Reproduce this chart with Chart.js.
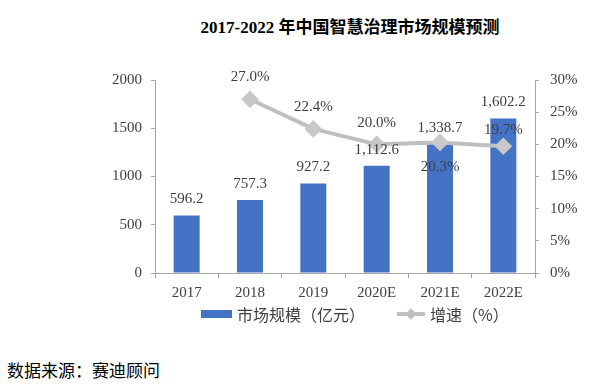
<!DOCTYPE html>
<html>
<head>
<meta charset="utf-8">
<script src="https://cdn.jsdelivr.net/npm/chart.js@4.4.1/dist/chart.umd.min.js"></script>
<style>
  html, body { margin: 0; padding: 0; background: #fff; }
  body { width: 609px; height: 388px; position: relative; overflow: hidden; }
  #title {
    position: absolute; left: 0; top: 18px; width: 700px; text-align: center;
    font: bold 17px/20px 'Liberation Serif', 'Noto Sans CJK SC', serif; color: #000;
  }
  #wrap { position: absolute; left: 0; top: 0; width: 609px; height: 310px; }
  #legend {
    position: absolute; left: 201px; top: 304px; height: 20px; display: flex; align-items: center;
    font: 16px/20px 'Noto Sans CJK SC', sans-serif; color: #404040;
  }
  .swatch-bar { width: 31px; height: 8px; background: #4472C4; margin-right: 5px; }
  .swatch-line { position: relative; width: 28px; height: 4px; background: #BFBFBF; margin: 0 5px 0 32px; }
  .swatch-line::after {
    content: ''; position: absolute; left: 10px; top: -2px; width: 8px; height: 8px;
    background: #BFBFBF; transform: rotate(45deg);
  }
  #source {
    position: absolute; left: 7px; top: 360px;
    font: 17px/20px 'Noto Sans CJK SC', sans-serif; color: #000;
  }
</style>
</head>
<body>
<div id="title">2017-2022 年中国智慧治理市场规模预测</div>
<div id="wrap"><canvas id="chart"></canvas></div>
<div id="legend">
  <span class="swatch-bar"></span><span>市场规模（亿元）</span>
  <span class="swatch-line"></span><span>增速（%）</span>
</div>
<div id="source">数据来源：赛迪顾问</div>
<script>
// ── Data ─────────────────────────────────────────────
const years      = ['2017', '2018', '2019', '2020E', '2021E', '2022E'];
const marketSize = [596.2, 757.3, 927.2, 1112.6, 1338.7, 1602.2];   // 亿元
const growthRate = [null, 27.0, 22.4, 20.0, 20.3, 19.7];            // %
const sizeTicks  = [0, 500, 1000, 1500, 2000];
const rateTicks  = [0, 5, 10, 15, 20, 25, 30];

const SERIF = "'Liberation Serif', 'Times New Roman', serif";
const AXIS  = '#A6A6A6';
const TEXT  = '#404040';

const fmtSize = v => v.toLocaleString('en-US', { minimumFractionDigits: 1, maximumFractionDigits: 1 });
const fmtRate = v => v.toFixed(1) + '%';

// value labels above bars and next to line points
const valueLabels = {
  id: 'valueLabels',
  afterDatasetsDraw(chart, args, opts) {
    const ctx = chart.ctx;
    ctx.save();
    ctx.font = '15px ' + SERIF;
    ctx.fillStyle = TEXT;
    ctx.textAlign = 'center';
    ctx.textBaseline = 'middle';
    chart.getDatasetMeta(1).data.forEach((el, i) => {
      ctx.fillText(fmtSize(marketSize[i]), el.x, el.y - opts.barOffset);
    });
    chart.getDatasetMeta(0).data.forEach((el, i) => {
      if (growthRate[i] == null) return;
      ctx.fillText(fmtRate(growthRate[i]), el.x, el.y + opts.lineOffsets[i]);
    });
    ctx.restore();
  }
};

new Chart(document.getElementById('chart'), {
  type: 'bar',
  data: {
    labels: years,
    datasets: [
      {
        type: 'line',
        label: '增速（%）',
        data: growthRate,
        yAxisID: 'y1',
        borderColor: '#BFBFBF',
        borderWidth: 4,
        tension: 0,
        pointStyle: 'rectRot',
        pointRadius: 6,
        pointBackgroundColor: '#C8C8C8',
        pointBorderColor: '#C8C8C8',
        order: 0,
      },
      {
        label: '市场规模（亿元）',
        data: marketSize,
        yAxisID: 'y',
        backgroundColor: '#4472C4',
        barPercentage: 0.41,
        categoryPercentage: 1,
        order: 1,
      },
    ],
  },
  options: {
    responsive: true,
    maintainAspectRatio: false,
    animation: false,
    layout: { padding: { left: 110, right: 24, top: 80, bottom: 7 } },
    scales: {
      x: {
        offset: true,
        grid: { offset: true, drawOnChartArea: false, tickLength: 5, color: AXIS },
        border: { color: AXIS },
        ticks: { color: TEXT, font: { family: SERIF, size: 15 }, padding: 6, maxRotation: 0 },
        afterFit: s => { s.height = 30; },
      },
      y: {
        position: 'left',
        min: 0, max: 2000,
        afterBuildTicks: s => { s.ticks = sizeTicks.map(v => ({ value: v })); },
        grid: { drawOnChartArea: false, tickLength: 4, color: AXIS },
        border: { color: AXIS },
        ticks: { color: TEXT, font: { family: SERIF, size: 15 }, padding: 9, callback: v => String(v) },
        afterFit: s => { s.width = 45; },
      },
      y1: {
        position: 'right',
        min: 0, max: 30,
        afterBuildTicks: s => { s.ticks = rateTicks.map(v => ({ value: v })); },
        grid: { drawOnChartArea: false, tickLength: 4, color: AXIS },
        border: { color: AXIS },
        ticks: { color: TEXT, font: { family: SERIF, size: 15 }, padding: 11, callback: v => v + '%' },
        afterFit: s => { s.width = 50; },
      },
    },
    plugins: {
      legend: { display: false },
      tooltip: { enabled: false },
      valueLabels: { barOffset: 16, lineOffsets: [0, -22, -22, -21, 25, -16] },
    },
  },
  plugins: [valueLabels],
});
</script>
</body>
</html>
